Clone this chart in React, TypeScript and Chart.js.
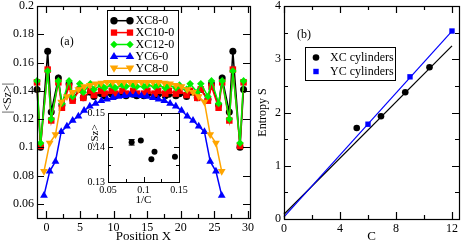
import React, { useEffect, useRef } from "react";
import { Chart, registerables } from "chart.js";
Chart.register(...registerables);

const FONT = "'Liberation Serif', 'Times New Roman', serif";

// ---------- Panel (a): |<Sz>| vs position ----------
const seriesNamesA = ["XC8-0", "XC10-0", "XC12-0", "YC6-0", "YC8-0"];
const seriesColorsA = ["#000000", "#ff0000", "#00ee00", "#0000ff", "#ffa500"];
const seriesMarkersA = ["circle", "square", "diamond", "triUp", "triDown"];

const posXC = [-1.4, -0.87, 0.19, 0.72, 1.78, 2.31, 3.37, 3.9, 4.96, 5.49, 6.55, 7.08, 8.14, 8.67, 9.73, 10.26, 11.32, 11.85, 12.91, 13.44,
  14.5, 15.03, 16.09, 16.62, 17.68, 18.21, 19.27, 19.8, 20.86, 21.39, 22.45, 22.98, 24.04, 24.57, 25.63, 26.16, 27.22, 27.75, 28.81, 29.34];
const szXC8 = [0.141, 0.100, 0.168, 0.125, 0.149, 0.130, 0.145, 0.134, 0.141, 0.135, 0.139, 0.136, 0.138, 0.1365, 0.1375, 0.1365, 0.1375, 0.1365, 0.1375, 0.1365,
  0.1365, 0.1375, 0.1365, 0.1375, 0.1365, 0.1375, 0.1365, 0.138, 0.136, 0.139, 0.135, 0.141, 0.134, 0.145, 0.130, 0.149, 0.125, 0.168, 0.100, 0.141];
const szXC10 = [0.146, 0.101, 0.155, 0.119, 0.146, 0.128, 0.143, 0.133, 0.141, 0.135, 0.140, 0.137, 0.140, 0.138, 0.140, 0.138, 0.140, 0.138, 0.140, 0.138,
  0.138, 0.140, 0.138, 0.140, 0.138, 0.140, 0.138, 0.140, 0.137, 0.140, 0.135, 0.141, 0.133, 0.143, 0.128, 0.146, 0.119, 0.155, 0.101, 0.146];
const szXC12 = [0.147, 0.103, 0.154, 0.120, 0.147, 0.131, 0.147, 0.136, 0.145, 0.139, 0.145, 0.141, 0.144, 0.142, 0.144, 0.142, 0.144, 0.143, 0.144, 0.143,
  0.143, 0.144, 0.143, 0.144, 0.142, 0.144, 0.142, 0.144, 0.141, 0.145, 0.139, 0.145, 0.136, 0.147, 0.131, 0.147, 0.120, 0.154, 0.103, 0.147];

const posYC = [-0.36, 0.49, 1.35, 2.2, 3.05, 3.91, 4.76, 5.61, 6.46, 7.32, 8.17, 9.02, 9.88, 10.73, 11.58, 12.44,
  13.29, 14.14, 14.99, 15.85, 16.7, 17.55, 18.41, 19.26, 20.11, 20.97, 21.82, 22.67, 23.52, 24.38, 25.23, 26.09];
const szYC6 = [0.066, 0.083, 0.090, 0.111, 0.115, 0.119, 0.122, 0.126, 0.129, 0.131, 0.133, 0.134, 0.135, 0.136, 0.1365, 0.137,
  0.137, 0.1365, 0.136, 0.135, 0.134, 0.133, 0.131, 0.129, 0.126, 0.122, 0.119, 0.115, 0.111, 0.090, 0.083, 0.066];
const szYC8 = [0.083, 0.103, 0.109, 0.132, 0.136, 0.139, 0.141, 0.143, 0.144, 0.145, 0.1455, 0.146, 0.146, 0.146, 0.146, 0.146,
  0.146, 0.146, 0.146, 0.146, 0.146, 0.1455, 0.145, 0.144, 0.143, 0.141, 0.139, 0.136, 0.132, 0.109, 0.103, 0.083];

const aXTicks = [0, 5, 10, 15, 20, 25, 30];
const aXMinor = [2.5, 7.5, 12.5, 17.5, 22.5, 27.5];
const aYTicks = [0.06, 0.08, 0.1, 0.12, 0.14, 0.16, 0.18, 0.2];

// ---------- Inset: <Sz> vs 1/C ----------
const invC = [0.0833, 0.0962, 0.1111, 0.1155, 0.1443];
const insetSz = [0.1415, 0.1420, 0.1366, 0.1388, 0.1373];
const insetErr = [0.0008, 0, 0, 0, 0];
const inXTicks = [0.05, 0.1, 0.15];
const inXMinor = [0.075, 0.125];
const inYTicks = [0.13, 0.14, 0.15];
const inYMinor = [0.135, 0.145];

// ---------- Panel (b): entropy vs C ----------
const xcC = [5.196, 6.928, 8.66, 10.392];
const xcS = [1.71, 1.93, 2.38, 2.85];
const ycC = [6, 9, 12];
const ycS = [1.78, 2.67, 3.53];
const xcFitC = [0, 12];
const xcFitS = [0.09, 3.25];
const ycFitC = [0, 12];
const ycFitS = [0.04, 3.53];
const bXTicks = [0, 4, 8, 12];
const bXMinor = [2, 6, 10];
const bYTicks = [0, 1, 2, 3, 4];
const bYMinor = [0.5, 1.5, 2.5, 3.5];

const zip = (xs: number[], ys: number[]) => xs.map((x, i) => ({ x, y: ys[i] }));
const fmt = (v: number) => String(Number(Number(v).toFixed(4)));

function drawMarker(ctx: CanvasRenderingContext2D, kind: string, x: number, y: number, r: number, color: string) {
  ctx.save();
  ctx.fillStyle = color;
  ctx.beginPath();
  if (kind === "circle") ctx.arc(x, y, r, 0, Math.PI * 2);
  else if (kind === "square") ctx.rect(x - r * 0.75, y - r * 0.75, r * 1.5, r * 1.5);
  else if (kind === "diamond") { ctx.moveTo(x, y - r); ctx.lineTo(x + r, y); ctx.lineTo(x, y + r); ctx.lineTo(x - r, y); ctx.closePath(); }
  else if (kind === "triUp") { ctx.moveTo(x, y - r); ctx.lineTo(x + r * 0.95, y + r * 0.6); ctx.lineTo(x - r * 0.95, y + r * 0.6); ctx.closePath(); }
  else if (kind === "triDown") { ctx.moveTo(x, y + r); ctx.lineTo(x + r * 0.95, y - r * 0.6); ctx.lineTo(x - r * 0.95, y - r * 0.6); ctx.closePath(); }
  ctx.fill();
  ctx.restore();
}

function linScale(min: number, max: number, ticksArr: number[], size: number, pad: number, horiz: boolean, dim: number, title?: any) {
  return {
    type: "linear",
    min, max,
    grid: { display: false, drawTicks: false },
    border: { display: false },
    afterBuildTicks: (s: any) => { s.ticks = ticksArr.map((v) => ({ value: v })); },
    afterFit: (s: any) => {
      if (horiz) { s.height = dim; s.paddingLeft = 0; s.paddingRight = 0; }
      else { s.width = dim; s.paddingTop = 0; s.paddingBottom = 0; }
    },
    ticks: { autoSkip: false, maxRotation: 0, padding: pad, color: "#000", font: { family: FONT, size }, callback: (v: any) => fmt(v) },
    title: title || { display: false },
  };
}

function framePlugin(cfg: any) {
  return {
    id: "frame" + cfg.key,
    beforeDatasetsDraw(chart: any) {
      if (!cfg.fillWhite) return;
      const { ctx, chartArea: a } = chart;
      ctx.save();
      ctx.fillStyle = "#fff";
      ctx.fillRect(a.left, a.top, a.right - a.left, a.bottom - a.top);
      ctx.restore();
    },
    afterDatasetsDraw(chart: any) {
      const { ctx, chartArea: a, scales } = chart;
      const xs = scales.x, ys = scales.y;
      ctx.save();
      ctx.strokeStyle = "#000";
      ctx.lineWidth = cfg.lw;
      ctx.beginPath();
      const xt = (vals: number[], len: number) => vals.forEach((v) => {
        const p = Math.round(xs.getPixelForValue(v)) + 0.5;
        ctx.moveTo(p, a.bottom); ctx.lineTo(p, a.bottom - len);
        ctx.moveTo(p, a.top); ctx.lineTo(p, a.top + len);
      });
      const yt = (vals: number[], len: number) => vals.forEach((v) => {
        const p = Math.round(ys.getPixelForValue(v)) + 0.5;
        ctx.moveTo(a.left, p); ctx.lineTo(a.left + len, p);
        ctx.moveTo(a.right, p); ctx.lineTo(a.right - len, p);
      });
      xt(cfg.xMajor, cfg.major); xt(cfg.xMinor, cfg.minor);
      yt(cfg.yMajor, cfg.major); yt(cfg.yMinor, cfg.minor);
      ctx.stroke();
      ctx.strokeRect(Math.round(a.left) + 0.5, Math.round(a.top) + 0.5, Math.round(a.right - a.left), Math.round(a.bottom - a.top));
      ctx.restore();
    },
    afterDraw(chart: any) { if (cfg.extra) cfg.extra(chart); },
  };
}

function vtext(ctx: CanvasRenderingContext2D, text: string, x: number, y: number, size: number) {
  ctx.save();
  ctx.translate(x, y);
  ctx.rotate(-Math.PI / 2);
  ctx.font = `${size}px ${FONT}`;
  ctx.fillStyle = "#000";
  ctx.textAlign = "center";
  ctx.textBaseline = "middle";
  ctx.fillText(text, 0, 0);
  ctx.restore();
}

export default function App() {
  const aRef = useRef<HTMLCanvasElement>(null);
  const inRef = useRef<HTMLCanvasElement>(null);
  const bRef = useRef<HTMLCanvasElement>(null);

  useEffect(() => {
    const seriesA = [
      zip(posXC, szXC8), zip(posXC, szXC10), zip(posXC, szXC12), zip(posYC, szYC6), zip(posYC, szYC8),
    ];
    const styleFor = (i: number) => {
      const m = seriesMarkersA[i];
      if (m === "circle") return { pointStyle: "circle", pointRadius: 3.5, pointRotation: 0 };
      if (m === "square") return { pointStyle: "rect", pointRadius: 4.6, pointRotation: 0 };
      if (m === "diamond") return { pointStyle: "rectRot", pointRadius: 3.8, pointRotation: 0 };
      if (m === "triUp") return { pointStyle: "triangle", pointRadius: 4.5, pointRotation: 0 };
      return { pointStyle: "triangle", pointRadius: 4.5, pointRotation: 180 };
    };
    const chartA = new Chart(aRef.current!, {
      type: "scatter",
      data: {
        datasets: seriesA.map((d, i) => ({
          label: seriesNamesA[i],
          data: d,
          showLine: true,
          borderColor: seriesColorsA[i],
          backgroundColor: seriesColorsA[i],
          pointBackgroundColor: seriesColorsA[i],
          pointBorderColor: seriesColorsA[i],
          pointBorderWidth: 0,
          borderWidth: 1.5,
          order: 5 - i,
          clip: false,
          ...styleFor(i),
        })),
      },
      options: {
        animation: false,
        responsive: false,
        events: [],
        layout: { padding: { left: 0, top: 6, right: 10, bottom: 0 } },
        plugins: { legend: { display: false }, tooltip: { enabled: false } },
        scales: {
          x: linScale(-1.4, 30.3, aXTicks, 12, 3, true, 26, {
            display: true, text: "Position X", color: "#000", padding: { top: 0, bottom: 0 }, font: { family: FONT, size: 13 },
          }),
          y: linScale(0.05, 0.2, aYTicks, 12, 3, false, 37),
        },
      } as any,
      plugins: [framePlugin({
        key: "a", lw: 1.2, major: 7, minor: 4,
        xMajor: aXTicks, xMinor: aXMinor, yMajor: aYTicks, yMinor: [],
        extra: (chart: any) => {
          const ctx = chart.ctx as CanvasRenderingContext2D;
          vtext(ctx, "|<Sz>|", 8, 98, 12);
          ctx.save();
          ctx.font = `12px ${FONT}`;
          ctx.fillStyle = "#000";
          ctx.textBaseline = "middle";
          ctx.textAlign = "center";
          ctx.fillText("(a)", 67, 42);
          // legend box
          ctx.fillStyle = "#fff";
          ctx.fillRect(107, 10, 71, 65);
          ctx.strokeStyle = "#000";
          ctx.lineWidth = 1;
          ctx.strokeRect(107.5, 10.5, 71, 65);
          const rows = [20.7, 32.6, 44.5, 56.4, 68.3];
          seriesNamesA.forEach((name, i) => {
            const y = rows[i];
            ctx.strokeStyle = seriesColorsA[i];
            ctx.lineWidth = 1.5;
            ctx.beginPath();
            ctx.moveTo(114, y); ctx.lineTo(130, y);
            ctx.stroke();
            const r = seriesMarkersA[i] === "square" ? 4.2 : seriesMarkersA[i].startsWith("tri") ? 4.5 : 3.7;
            drawMarker(ctx, seriesMarkersA[i], 114, y, r, seriesColorsA[i]);
            drawMarker(ctx, seriesMarkersA[i], 130, y, r, seriesColorsA[i]);
            ctx.fillStyle = "#000";
            ctx.textAlign = "left";
            ctx.fillText(name, 135.5, y + 0.5);
          });
          ctx.restore();
        },
      })],
    });

    const chartIn = new Chart(inRef.current!, {
      type: "scatter",
      data: {
        datasets: [{
          label: "<Sz>",
          data: zip(invC, insetSz),
          showLine: false,
          pointStyle: "circle",
          pointRadius: 3,
          pointBackgroundColor: "#000",
          pointBorderColor: "#000",
          pointBorderWidth: 0,
          clip: false,
        }],
      },
      options: {
        animation: false,
        responsive: false,
        events: [],
        layout: { padding: { left: 0, top: 8, right: 11, bottom: 0 } },
        plugins: { legend: { display: false }, tooltip: { enabled: false } },
        scales: {
          x: linScale(0.05, 0.15, inXTicks, 10, 2, true, 25, {
            display: true, text: "1/C", color: "#000", padding: { top: 0, bottom: 0 }, font: { family: FONT, size: 11 },
          }),
          y: linScale(0.13, 0.15, inYTicks, 10, 3, false, 28),
        },
      } as any,
      plugins: [framePlugin({
        key: "in", lw: 1, major: 5, minor: 3, fillWhite: true,
        xMajor: inXTicks, xMinor: inXMinor, yMajor: inYTicks, yMinor: inYMinor,
        extra: (chart: any) => {
          const ctx = chart.ctx as CanvasRenderingContext2D;
          const xs = chart.scales.x, ys = chart.scales.y;
          ctx.save();
          ctx.strokeStyle = "#000";
          ctx.lineWidth = 1;
          ctx.beginPath();
          invC.forEach((c, i) => {
            if (!insetErr[i]) return;
            const px = xs.getPixelForValue(c);
            const y1 = ys.getPixelForValue(insetSz[i] + insetErr[i]);
            const y2 = ys.getPixelForValue(insetSz[i] - insetErr[i]);
            ctx.moveTo(px, y1); ctx.lineTo(px, y2);
            ctx.moveTo(px - 3, y1); ctx.lineTo(px + 3, y1);
            ctx.moveTo(px - 3, y2); ctx.lineTo(px + 3, y2);
          });
          ctx.stroke();
          ctx.restore();
          vtext(ctx, "<Sz>", 15, 31, 11);
        },
      })],
    });

    const chartB = new Chart(bRef.current!, {
      type: "scatter",
      data: {
        datasets: [
          { label: "XC fit", data: zip(xcFitC, xcFitS), showLine: true, borderColor: "#000", borderWidth: 1.2, pointRadius: 0, clip: false, order: 4 },
          { label: "YC fit", data: zip(ycFitC, ycFitS), showLine: true, borderColor: "#0000ff", borderWidth: 1.2, pointRadius: 0, clip: false, order: 3 },
          { label: "XC cylinders", data: zip(xcC, xcS), showLine: false, pointStyle: "circle", pointRadius: 3.3, pointBackgroundColor: "#000", pointBorderColor: "#000", pointBorderWidth: 0, clip: false, order: 2 },
          { label: "YC cylinders", data: zip(ycC, ycS), showLine: false, pointStyle: "rect", pointRadius: 3.8, pointBackgroundColor: "#0000ff", pointBorderColor: "#0000ff", pointBorderWidth: 0, clip: false, order: 1 },
        ],
      },
      options: {
        animation: false,
        responsive: false,
        events: [],
        layout: { padding: { left: 0, top: 6, right: 1, bottom: 0 } },
        plugins: { legend: { display: false }, tooltip: { enabled: false } },
        scales: {
          x: linScale(0, 12.5, bXTicks, 12, 3, true, 25, {
            display: true, text: "C", color: "#000", padding: { top: 0, bottom: 0 }, font: { family: FONT, size: 13 },
          }),
          y: linScale(0, 4, bYTicks, 12, 3, false, 28, {
            display: true, text: "Entropy S", color: "#000", padding: { top: 0, bottom: 0 }, font: { family: FONT, size: 12 },
          }),
        },
      } as any,
      plugins: [framePlugin({
        key: "b", lw: 1.2, major: 7, minor: 4,
        xMajor: bXTicks, xMinor: bXMinor, yMajor: bYTicks, yMinor: bYMinor,
        extra: (chart: any) => {
          const ctx = chart.ctx as CanvasRenderingContext2D;
          const ox = 256;
          ctx.save();
          ctx.font = `12px ${FONT}`;
          ctx.fillStyle = "#000";
          ctx.textBaseline = "middle";
          ctx.textAlign = "center";
          ctx.fillText("(b)", 304 - ox, 35);
          ctx.fillStyle = "#fff";
          ctx.fillRect(305 - ox, 47, 90, 33);
          ctx.strokeStyle = "#000";
          ctx.lineWidth = 1;
          ctx.strokeRect(305.5 - ox, 47.5, 90, 33);
          drawMarker(ctx, "circle", 316 - ox, 57.5, 3.3, "#000");
          drawMarker(ctx, "square", 316 - ox, 71.5, 3.6, "#0000ff");
          ctx.fillStyle = "#000";
          ctx.textAlign = "left";
          ctx.fillText("XC cylinders", 330 - ox, 57.5);
          ctx.fillText("YC cylinders", 330 - ox, 71.5);
          ctx.restore();
        },
      })],
    });

    return () => { chartA.destroy(); chartIn.destroy(); chartB.destroy(); };
  }, []);

  return (
    <div style={{ position: "absolute", left: 0, top: 0, width: 463, height: 244, background: "#fff" }}>
      <canvas ref={aRef} width={260} height={244} style={{ position: "absolute", left: 0, top: 0, width: 260, height: 244 }} />
      <canvas ref={bRef} width={207} height={244} style={{ position: "absolute", left: 256, top: 0, width: 207, height: 244 }} />
      <canvas ref={inRef} width={110} height={102} style={{ position: "absolute", left: 80, top: 105, width: 110, height: 102 }} />
    </div>
  );
}
